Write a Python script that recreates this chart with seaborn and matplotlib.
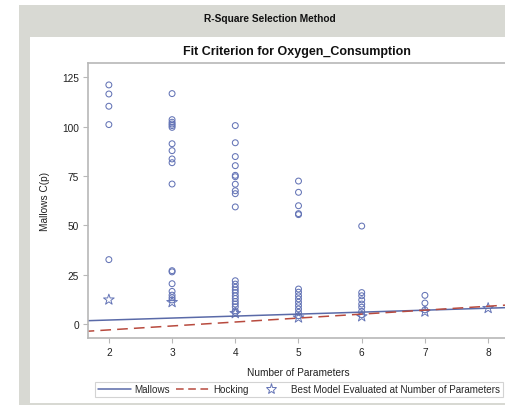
import matplotlib
matplotlib.use("Agg")
import matplotlib.pyplot as plt
import seaborn as sns
import pandas as pd
from matplotlib.patches import Rectangle
from matplotlib.lines import Line2D

# Mallows C(p) of every model, grouped by number of parameters
cp_p2 = [121.1, 116.5, 110.3, 101.0, 32.6]
cp_p3 = [116.7, 103.5, 102.2, 101.3, 100.5, 99.6, 91.3, 87.8, 83.6, 81.7, 70.9,
         27.0, 26.4, 20.4, 16.5, 14.6, 13.3, 12.2]
cp_p4 = [100.5, 91.8, 84.8, 80.2, 75.3, 74.6, 70.8, 67.5, 66.0, 59.3,
         21.9, 20.2, 18.6, 17.2, 15.9, 14.3, 12.9, 11.4, 10.1, 8.7, 6.7, 5.9]
cp_p5 = [72.4, 66.7, 59.9, 55.9, 55.4,
         17.7, 16.1, 14.3, 12.7, 11.0, 9.3, 7.6, 5.9, 4.2]
cp_p6 = [49.6, 15.9, 14.3, 12.2, 10.1, 8.5, 6.4, 4.7]
cp_p7 = [14.5, 10.6, 7.2]

best_params = [2, 3, 4, 5, 6, 7, 8]
best_cp = [12.3, 11.0, 5.4, 3.2, 3.8, 6.2, 8.0]

n_full = 8
line_params = [1.6, 8.4]
x_ticks = [2, 3, 4, 5, 6, 7, 8]
y_ticks = [0, 25, 50, 75, 100, 125]

groups = {2: cp_p2, 3: cp_p3, 4: cp_p4, 5: cp_p5, 6: cp_p6, 7: cp_p7}
models = pd.DataFrame([(p, c) for p, vals in groups.items() for c in vals],
                      columns=["p", "cp"])
best = pd.DataFrame({"p": best_params, "cp": best_cp})
lines = pd.DataFrame({"p": line_params})
lines["mallows"] = lines["p"]
lines["hocking"] = 2 * lines["p"] - n_full + 1

sns.set_theme(style="white")
plt.rcParams["font.family"] = ["Liberation Sans", "DejaVu Sans"]

BLUE = "#6474b6"
LINE_BLUE = "#5a6aa8"
RED = "#b84a3e"
FRAME = "#d8d9d3"
SPINE = "#b8b8b8"

fig = plt.figure(figsize=(5.06, 4.06), dpi=100)
fig.patch.set_facecolor("white")
W, H = 506, 406

def px_rect(x0, y0, x1, y1, color, z=0):
    fig.patches.append(Rectangle((x0 / W, 1 - y1 / H), (x1 - x0) / W, (y1 - y0) / H,
                                 transform=fig.transFigure, facecolor=color,
                                 edgecolor="none", zorder=z))

px_rect(19, 6, 520, 420, FRAME, z=0)
px_rect(30, 38, 520, 403.5, "white", z=1)

fig.text(270 / W, 1 - 19 / H, "R-Square Selection Method", ha="center", va="center",
         fontsize=7.3, fontweight="bold", color="#111111")
fig.text(297 / W, 1 - 52 / H, "Fit Criterion for Oxygen_Consumption", ha="center",
         va="center", fontsize=9, fontweight="bold", color="#111111")

ax = fig.add_axes([88 / W, 1 - 339 / H, 421 / W, 275 / H])
ax.set_zorder(2)
ax.set_facecolor("white")

sns.lineplot(data=lines, x="p", y="mallows", ax=ax, color=LINE_BLUE, lw=1.1)
sns.lineplot(data=lines, x="p", y="hocking", ax=ax, color=RED, lw=1.1,
             dashes=False, linestyle=(0, (7, 4)))
sns.scatterplot(data=models, x="p", y="cp", ax=ax, marker="o", s=18,
                facecolor="none", edgecolor=BLUE, linewidth=0.75)
sns.scatterplot(data=best, x="p", y="cp", ax=ax, marker="*", s=65,
                facecolor="none", edgecolor=BLUE, linewidth=0.7)

ax.set_xlim(1.67, 8.33)
ax.set_ylim(-7.1, 132.2)
ax.set_xticks(x_ticks)
ax.set_yticks(y_ticks)
ax.set_xlabel("Number of Parameters", fontsize=7.3, color="#222222", labelpad=7)
ax.set_ylabel("Mallows C(p)", fontsize=7.3, color="#222222", labelpad=9)
ax.tick_params(axis="both", labelsize=7.3, colors="#222222", length=3.5, width=0.8,
               color=SPINE, direction="out", pad=3, bottom=True, left=True)
for side in ["left", "bottom", "top", "right"]:
    ax.spines[side].set_color(SPINE)
    ax.spines[side].set_linewidth(1.2)
ax.grid(False)

handles = [
    Line2D([], [], color=LINE_BLUE, lw=1.1),
    Line2D([], [], color=RED, lw=1.1, linestyle=(0, (5, 3))),
    Line2D([], [], marker="*", markersize=8, markerfacecolor="none",
           markeredgecolor=BLUE, markeredgewidth=0.7, linestyle="none"),
]
labels = ["Mallows", "Hocking", "Best Model Evaluated at Number of Parameters"]
leg = fig.legend(handles, labels, loc="center", ncol=3,
                 bbox_to_anchor=(299 / W, 1 - 390.5 / H), fontsize=7.15,
                 frameon=True, fancybox=False, handlelength=3.3,
                 handletextpad=0.4, columnspacing=0.6, borderpad=0.3)
leg.get_frame().set_edgecolor("#c8c8c8")
leg.get_frame().set_linewidth(0.8)
leg.set_zorder(3)

fig.savefig("out.png", dpi=100)
